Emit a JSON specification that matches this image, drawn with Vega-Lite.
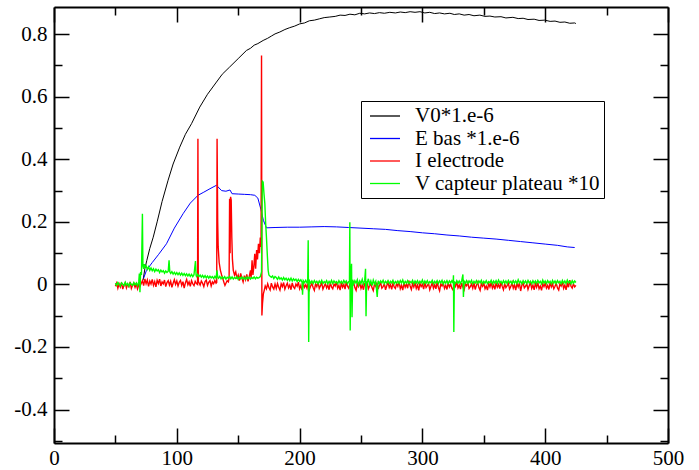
{
  "$schema": "https://vega.github.io/schema/vega-lite/v6.json",
  "width": 614,
  "height": 436,
  "autosize": {"type": "none"},
  "padding": {"left": 54, "top": 7, "right": 31, "bottom": 27},
  "config": {
    "view": {"stroke": null},
    "axis": {"grid": false, "domainColor": "#000000", "tickColor": "#000000", "labelColor": "#000000", "labelFont": "Liberation Serif", "labelFontSize": 21, "domainWidth": 2, "tickWidth": 1.5, "labelFlush": false, "labelOverlap": false},
    "style": {"guide-label": {"font": "Liberation Serif"}}
  },
  "resolve": {"axis": {"x": "independent", "y": "independent"}},
  "layer": [
    {
      "data": {"values": [
        {"x":72.5,"y":0.013},{"x":74,"y":0.05},{"x":75.6,"y":0.077},{"x":78,"y":0.115},{"x":80.8,"y":0.151},{"x":84,"y":0.2},{"x":88,"y":0.265},{"x":92.9,"y":0.333},{"x":97,"y":0.385},{"x":102.4,"y":0.439},{"x":107,"y":0.48},{"x":112,"y":0.514},{"x":118.7,"y":0.567},{"x":125,"y":0.608},{"x":132.3,"y":0.647},{"x":137,"y":0.672},{"x":143,"y":0.695},{"x":150,"y":0.722},{"x":156.7,"y":0.748},{"x":160,"y":0.755},{"x":163,"y":0.765},{"x":166,"y":0.77},{"x":170.3,"y":0.78},{"x":174,"y":0.787},{"x":177,"y":0.794},{"x":180,"y":0.801},{"x":183.9,"y":0.807},{"x":188,"y":0.815},{"x":192,"y":0.821},{"x":196,"y":0.826},{"x":200.1,"y":0.833},{"x":204,"y":0.836},{"x":208,"y":0.843},{"x":212,"y":0.845},{"x":216,"y":0.849},{"x":220,"y":0.853},{"x":224.6,"y":0.855},{"x":229,"y":0.857},{"x":233,"y":0.861},{"x":237,"y":0.86},{"x":241,"y":0.864},{"x":245,"y":0.862},{"x":249,"y":0.867},{"x":253,"y":0.865},{"x":257,"y":0.868},{"x":261,"y":0.866},{"x":265,"y":0.869},{"x":269,"y":0.867},{"x":273.5,"y":0.87},{"x":278,"y":0.868},{"x":282,"y":0.871},{"x":286,"y":0.869},{"x":290,"y":0.872},{"x":294,"y":0.87},{"x":298,"y":0.872},{"x":302,"y":0.868},{"x":306,"y":0.87},{"x":310,"y":0.866},{"x":314,"y":0.868},{"x":318,"y":0.865},{"x":322.4,"y":0.867},{"x":326,"y":0.863},{"x":330,"y":0.865},{"x":334,"y":0.861},{"x":338,"y":0.863},{"x":342,"y":0.859},{"x":346.8,"y":0.861},{"x":351,"y":0.857},{"x":355,"y":0.858},{"x":359,"y":0.855},{"x":364,"y":0.856},{"x":368,"y":0.852},{"x":373.7,"y":0.854},{"x":378,"y":0.85},{"x":382,"y":0.851},{"x":386,"y":0.847},{"x":391,"y":0.848},{"x":395,"y":0.844},{"x":399.6,"y":0.845},{"x":404,"y":0.841},{"x":408,"y":0.842},{"x":412,"y":0.838},{"x":416,"y":0.839},{"x":420,"y":0.835},{"x":424,"y":0.836},{"x":425,"y":0.834}
      ]},
      "mark": {"type": "line", "strokeWidth": 1},
      "encoding": {
        "x": {"field": "x", "type": "quantitative", "scale": {"domain": [0, 500], "nice": false, "zero": false},
          "axis": {"orient": "bottom", "values": [0,100,200,300,400,500], "ticks": false, "tickSize": 0, "labelPadding": 4, "labelFont": "Liberation Serif", "labelFontSize": 21, "labelColor": "#000000", "labelFlush": false, "labelOverlap": false, "domain": true, "domainColor": "#000000", "domainWidth": 2, "grid": false, "title": null}},
        "y": {"field": "y", "type": "quantitative", "scale": {"domain": [-0.507, 0.887], "nice": false, "zero": false},
          "axis": {"orient": "left", "values": [-0.4,-0.2,0,0.2,0.4,0.6,0.8], "ticks": false, "tickSize": 0, "labelPadding": 7, "labelFont": "Liberation Serif", "labelFontSize": 21, "labelColor": "#000000", "labelFlush": false, "labelOverlap": false, "labelExpr": "'' + datum.value", "domain": true, "domainColor": "#000000", "domainWidth": 2, "grid": false, "title": null}},
        "color": {"datum": "V0", "type": "nominal",
          "scale": {"domain": ["V0","E","I","Vc"], "range": ["#000000","#0000ff","#ff0000","#00ff00"]},
          "legend": {"orient": "none", "legendX": 307, "legendY": 94, "title": null, "strokeColor": "#000000", "fillColor": "#ffffff", "padding": 4, "symbolType": "M-1.5,0H1.5", "symbolSize": 400, "symbolStrokeWidth": 1.3, "labelFont": "Liberation Serif", "labelFontSize": 21, "labelColor": "#000000", "labelLimit": 0, "rowPadding": 1.5, "symbolOffset": 9, "labelOffset": 19,
            "labelExpr": "datum.label == 'V0' ? 'V0*1.e-6' : datum.label == 'E' ? 'E bas *1.e-6' : datum.label == 'I' ? 'I electrode' : 'V capteur plateau *10'"}}
      }
    },
    {
      "data": {"values": [
        {"x":73,"y":0.02},{"x":75.3,"y":0.045},{"x":80,"y":0.07},{"x":85,"y":0.095},{"x":91.6,"y":0.13},{"x":98,"y":0.18},{"x":105.1,"y":0.226},{"x":111,"y":0.26},{"x":117.3,"y":0.285},{"x":122,"y":0.295},{"x":127,"y":0.306},{"x":132.3,"y":0.317},{"x":133.5,"y":0.312},{"x":136.5,"y":0.3},{"x":140,"y":0.298},{"x":143.3,"y":0.302},{"x":145,"y":0.29},{"x":150,"y":0.289},{"x":155,"y":0.288},{"x":160,"y":0.287},{"x":163.5,"y":0.285},{"x":166,"y":0.276},{"x":168.5,"y":0.24},{"x":170.5,"y":0.205},{"x":173,"y":0.181},{"x":180,"y":0.182},{"x":190,"y":0.183},{"x":200,"y":0.183},{"x":210,"y":0.184},{"x":220,"y":0.185},{"x":230,"y":0.184},{"x":240,"y":0.182},{"x":250,"y":0.18},{"x":260,"y":0.178},{"x":270,"y":0.176},{"x":280,"y":0.172},{"x":290,"y":0.169},{"x":300,"y":0.165},{"x":310,"y":0.162},{"x":320,"y":0.158},{"x":330,"y":0.155},{"x":340,"y":0.151},{"x":350,"y":0.148},{"x":360,"y":0.145},{"x":370,"y":0.141},{"x":380,"y":0.137},{"x":390,"y":0.133},{"x":400,"y":0.129},{"x":410,"y":0.125},{"x":418,"y":0.12},{"x":424,"y":0.118}
      ]},
      "mark": {"type": "line", "strokeWidth": 1},
      "encoding": {
        "x": {"field": "x", "type": "quantitative", "axis": {"orient": "bottom", "values": [0,100,200,300,400,500], "labels": false, "domain": false, "grid": false, "tickSize": -15, "tickColor": "#000000", "tickWidth": 1.5, "title": null}},
        "y": {"field": "y", "type": "quantitative", "axis": {"orient": "left", "values": [-0.4,-0.2,0,0.2,0.4,0.6,0.8], "labels": false, "domain": false, "grid": false, "tickSize": -15, "tickColor": "#000000", "tickWidth": 1.5, "title": null}},
        "color": {"datum": "E", "type": "nominal"}
      }
    },
    {
      "data": {"values": [
        {"x":50,"y":-0.006},{"x":51,"y":0.004},{"x":52,"y":-0.012},{"x":53,"y":0.002},{"x":54,"y":-0.008},{"x":55,"y":0.006},{"x":56,"y":-0.015},{"x":57,"y":-0.002},{"x":58,"y":0.005},{"x":59,"y":-0.011},{"x":60,"y":0.001},{"x":61,"y":-0.007},{"x":62,"y":0.008},{"x":63,"y":-0.013},{"x":64,"y":-0.003},{"x":65,"y":0.004},{"x":66,"y":-0.009},{"x":67,"y":0.002},{"x":68,"y":-0.014},{"x":69,"y":-0.001},{"x":70,"y":-0.006},{"x":71,"y":0.003},
        {"x":72,"y":0.012},{"x":73,"y":-0.004},{"x":74,"y":0.018},{"x":75,"y":0.002},{"x":76,"y":0.014},{"x":77,"y":-0.006},{"x":78,"y":0.011},{"x":79,"y":0.001},{"x":80,"y":0.016},{"x":81,"y":-0.003},{"x":82,"y":0.009},{"x":83,"y":-0.008},{"x":84,"y":0.013},{"x":85,"y":0.003},{"x":86,"y":0.017},{"x":87,"y":-0.005},{"x":88,"y":0.008},{"x":89,"y":0.002},{"x":90,"y":0.014},{"x":91,"y":-0.007},{"x":92,"y":0.006},{"x":93,"y":0.012},{"x":94,"y":-0.002},{"x":95,"y":0.01},{"x":96,"y":-0.009},{"x":97,"y":0.004},{"x":98,"y":0.015},{"x":99,"y":0.0},{"x":100,"y":0.011},{"x":101,"y":-0.005},{"x":102,"y":0.007},{"x":103,"y":0.013},{"x":104,"y":-0.003},{"x":105,"y":0.009},{"x":106,"y":-0.012},{"x":107,"y":0.005},{"x":108,"y":0.016},{"x":109,"y":-0.001},{"x":110,"y":0.008},{"x":111,"y":-0.006},{"x":112,"y":0.012},{"x":113,"y":0.002},{"x":114,"y":-0.004},{"x":115,"y":0.01},{"x":116,"y":0.003},
        {"x":116.9,"y":0.0},{"x":117.2,"y":0.466},{"x":117.5,"y":0.01},{"x":118,"y":0.006},{"x":119,"y":-0.002},{"x":120,"y":0.011},{"x":121,"y":0.004},{"x":122,"y":-0.007},{"x":123,"y":0.009},{"x":124,"y":0.014},{"x":125,"y":-0.003},{"x":126,"y":0.007},{"x":127,"y":0.012},{"x":128,"y":-0.005},{"x":129,"y":0.008},{"x":130,"y":0.002},{"x":131,"y":0.013},{"x":132,"y":0.004},{"x":132.5,"y":0.006},
        {"x":132.8,"y":0.466},{"x":133.3,"y":0.2},{"x":133.7,"y":0.12},{"x":134.5,"y":0.07},{"x":135.5,"y":0.045},{"x":136.5,"y":0.03},{"x":137.5,"y":0.018},{"x":138.5,"y":0.005},{"x":139.2,"y":-0.003},{"x":140,"y":0.004},{"x":141,"y":0.012},{"x":142,"y":0.008},{"x":142.6,"y":0.02},{"x":143,"y":0.274},{"x":143.4,"y":0.1},{"x":143.8,"y":0.28},{"x":144.3,"y":0.27},{"x":144.8,"y":0.15},{"x":145.3,"y":0.08},{"x":146,"y":0.045},{"x":147,"y":0.03},{"x":148,"y":0.04},{"x":149,"y":0.018},{"x":150,"y":0.03},{"x":151,"y":0.012},{"x":152,"y":0.035},{"x":153,"y":0.02},{"x":154,"y":0.008},{"x":155,"y":0.028},{"x":156,"y":0.015},{"x":157,"y":0.032},{"x":158,"y":0.01},{"x":159,"y":0.025},{"x":160,"y":0.045},{"x":160.5,"y":0.02},{"x":161.3,"y":0.077},{"x":162,"y":0.03},{"x":162.8,"y":0.06},{"x":163.5,"y":0.098},{"x":164.2,"y":0.05},{"x":165,"y":0.11},{"x":165.7,"y":0.08},{"x":166.5,"y":0.13},{"x":167.3,"y":0.1},{"x":168,"y":0.15},{"x":168.6,"y":0.12},{"x":169,"y":0.732},{"x":169.3,"y":-0.099},{"x":169.8,"y":-0.06},{"x":170.5,"y":-0.03},{"x":171.2,"y":-0.019},{"x":172,"y":-0.005},{"x":173,"y":-0.014},{"x":174,"y":0.002},{"x":175,"y":-0.01},{"x":176,"y":-0.018},{"x":177,"y":0.004},{"x":178,"y":-0.008},{"x":179,"y":-0.015},{"x":180,"y":0.001},
        {"x":181,"y":-0.013},{"x":182,"y":0.003},{"x":183,"y":-0.009},{"x":184,"y":-0.018},{"x":185,"y":0.002},{"x":186,"y":-0.007},{"x":187,"y":0.006},{"x":188,"y":-0.015},{"x":189,"y":-0.004},{"x":190,"y":0.004},
        {"x":191,"y":-0.011},{"x":192,"y":-0.002},{"x":193,"y":-0.017},{"x":194,"y":0.005},{"x":195,"y":-0.008},{"x":196,"y":-0.013},{"x":197,"y":0.001},{"x":198,"y":-0.006},{"x":199,"y":0.007},{"x":200,"y":-0.014},
        {"x":201,"y":-0.003},{"x":202,"y":-0.018},{"x":203,"y":0.004},{"x":204,"y":-0.009},{"x":205,"y":-0.001},{"x":206,"y":-0.012},{"x":207,"y":0.006},{"x":208,"y":-0.016},{"x":209,"y":-0.005},{"x":210,"y":0.003},
        {"x":211,"y":-0.01},{"x":212,"y":-0.019},{"x":213,"y":0.002},{"x":214,"y":-0.007},{"x":215,"y":0.008},{"x":216,"y":-0.013},{"x":217,"y":-0.004},{"x":218,"y":0.005},{"x":219,"y":-0.015},{"x":220,"y":-0.006},
        {"x":221,"y":0.003},{"x":222,"y":-0.011},{"x":223,"y":-0.002},{"x":224,"y":-0.017},{"x":225,"y":0.006},{"x":226,"y":-0.008},{"x":227,"y":-0.014},{"x":228,"y":0.001},{"x":229,"y":-0.005},{"x":230,"y":0.009},
        {"x":231,"y":-0.012},{"x":232,"y":-0.003},{"x":233,"y":-0.018},{"x":234,"y":0.004},{"x":235,"y":-0.009},{"x":236,"y":0.0},{"x":237,"y":-0.015},{"x":238,"y":0.007},{"x":239,"y":-0.006},{"x":240,"y":-0.012},
        {"x":241,"y":0.003},{"x":242,"y":-0.016},{"x":243,"y":-0.004},{"x":244,"y":0.006},{"x":245,"y":-0.01},{"x":246,"y":-0.019},{"x":247,"y":0.002},{"x":248,"y":-0.007},{"x":249,"y":0.005},{"x":250,"y":-0.013},
        {"x":251,"y":-0.002},{"x":252,"y":-0.017},{"x":253,"y":0.004},{"x":254,"y":-0.008},{"x":255,"y":0.008},{"x":256,"y":-0.014},{"x":257,"y":-0.005},{"x":258,"y":0.003},{"x":259,"y":-0.011},{"x":260,"y":-0.02},
        {"x":261,"y":0.001},{"x":262,"y":-0.006},{"x":263,"y":0.006},{"x":264,"y":-0.015},{"x":265,"y":-0.003},{"x":266,"y":0.005},{"x":267,"y":-0.012},{"x":268,"y":-0.007},{"x":269,"y":0.002},{"x":270,"y":-0.017},
        {"x":271,"y":-0.004},{"x":272,"y":0.007},{"x":273,"y":-0.01},{"x":274,"y":-0.001},{"x":275,"y":-0.016},{"x":276,"y":0.004},{"x":277,"y":-0.008},{"x":278,"y":-0.013},{"x":279,"y":0.003},{"x":280,"y":-0.006},
        {"x":281,"y":0.009},{"x":282,"y":-0.014},{"x":283,"y":-0.003},{"x":284,"y":-0.018},{"x":285,"y":0.005},{"x":286,"y":-0.009},{"x":287,"y":0.001},{"x":288,"y":-0.012},{"x":289,"y":0.012},{"x":290,"y":-0.005},
        {"x":291,"y":-0.016},{"x":292,"y":0.002},{"x":293,"y":-0.008},{"x":294,"y":0.006},{"x":295,"y":-0.013},{"x":296,"y":-0.002},{"x":297,"y":-0.019},{"x":298,"y":0.004},{"x":299,"y":-0.007},{"x":300,"y":0.0},
        {"x":301,"y":-0.015},{"x":302,"y":0.006},{"x":303,"y":-0.01},{"x":304,"y":-0.004},{"x":305,"y":0.003},{"x":306,"y":-0.017},{"x":307,"y":-0.006},{"x":308,"y":0.005},{"x":309,"y":-0.012},{"x":310,"y":-0.001},
        {"x":311,"y":-0.014},{"x":312,"y":0.007},{"x":313,"y":-0.009},{"x":314,"y":-0.02},{"x":315,"y":0.002},{"x":316,"y":-0.005},{"x":317,"y":0.004},{"x":318,"y":-0.013},{"x":319,"y":-0.003},{"x":320,"y":-0.016},
        {"x":321,"y":0.005},{"x":322,"y":-0.008},{"x":323,"y":0.001},{"x":324,"y":-0.012},{"x":325,"y":-0.018},{"x":326,"y":0.003},{"x":327,"y":-0.006},{"x":328,"y":0.008},{"x":329,"y":-0.011},{"x":330,"y":-0.002},
        {"x":331,"y":-0.015},{"x":332,"y":0.004},{"x":333,"y":-0.009},{"x":334,"y":-0.017},{"x":335,"y":0.002},{"x":336,"y":-0.004},{"x":337,"y":0.006},{"x":338,"y":-0.013},{"x":339,"y":-0.007},{"x":340,"y":0.001},
        {"x":341,"y":-0.012},{"x":342,"y":0.005},{"x":343,"y":-0.016},{"x":344,"y":-0.003},{"x":345,"y":0.007},{"x":346,"y":-0.01},{"x":347,"y":-0.019},{"x":348,"y":0.002},{"x":349,"y":-0.006},{"x":350,"y":0.004},
        {"x":351,"y":-0.014},{"x":352,"y":-0.005},{"x":353,"y":-0.018},{"x":354,"y":0.003},{"x":355,"y":-0.008},{"x":356,"y":0.006},{"x":357,"y":-0.012},{"x":358,"y":-0.002},{"x":359,"y":-0.016},{"x":360,"y":0.005},
        {"x":361,"y":-0.009},{"x":362,"y":0.0},{"x":363,"y":-0.013},{"x":364,"y":0.007},{"x":365,"y":-0.006},{"x":366,"y":-0.017},{"x":367,"y":0.002},{"x":368,"y":-0.01},{"x":369,"y":-0.004},{"x":370,"y":0.004},
        {"x":371,"y":-0.015},{"x":372,"y":-0.007},{"x":373,"y":0.006},{"x":374,"y":-0.012},{"x":375,"y":-0.001},{"x":376,"y":-0.018},{"x":377,"y":0.003},{"x":378,"y":-0.008},{"x":379,"y":0.005},{"x":380,"y":-0.021},
        {"x":381,"y":-0.003},{"x":382,"y":0.004},{"x":383,"y":-0.011},{"x":384,"y":-0.006},{"x":385,"y":0.002},{"x":386,"y":-0.016},{"x":387,"y":-0.004},{"x":388,"y":0.006},{"x":389,"y":-0.013},{"x":390,"y":-0.002},
        {"x":391,"y":-0.017},{"x":392,"y":0.003},{"x":393,"y":-0.009},{"x":394,"y":0.005},{"x":395,"y":-0.014},{"x":396,"y":-0.005},{"x":397,"y":-0.019},{"x":398,"y":0.002},{"x":399,"y":-0.007},{"x":400,"y":0.004},
        {"x":401,"y":-0.012},{"x":402,"y":-0.003},{"x":403,"y":-0.016},{"x":404,"y":0.006},{"x":405,"y":-0.008},{"x":406,"y":0.001},{"x":407,"y":-0.014},{"x":408,"y":-0.006},{"x":409,"y":0.004},{"x":410,"y":-0.011},
        {"x":411,"y":-0.018},{"x":412,"y":0.002},{"x":413,"y":-0.005},{"x":414,"y":0.007},{"x":415,"y":-0.013},{"x":416,"y":-0.002},{"x":417,"y":-0.017},{"x":418,"y":0.003},{"x":419,"y":-0.009},{"x":420,"y":0.014},
        {"x":421,"y":-0.006},{"x":422,"y":-0.012},{"x":423,"y":0.002},{"x":424,"y":-0.008},{"x":425,"y":-0.003}
      ]},
      "mark": {"type": "line", "strokeWidth": 1.4},
      "encoding": {
        "x": {"field": "x", "type": "quantitative", "axis": {"orient": "bottom", "values": [50,150,250,350,450], "labels": false, "domain": false, "grid": false, "tickSize": -8, "tickColor": "#000000", "tickWidth": 1.5, "title": null}},
        "y": {"field": "y", "type": "quantitative", "axis": {"orient": "left", "values": [-0.5,-0.3,-0.1,0.1,0.3,0.5,0.7], "labels": false, "domain": false, "grid": false, "tickSize": -8, "tickColor": "#000000", "tickWidth": 1.5, "title": null}},
        "color": {"datum": "I", "type": "nominal"}
      }
    },
    {
      "data": {"values": [
        {"x":50,"y":0.004},{"x":51,"y":-0.003},{"x":52,"y":0.006},{"x":53,"y":0.0},{"x":54,"y":-0.005},{"x":55,"y":0.005},{"x":56,"y":0.001},{"x":57,"y":-0.004},{"x":58,"y":0.007},{"x":59,"y":-0.002},{"x":60,"y":0.003},{"x":61,"y":-0.006},{"x":62,"y":0.005},{"x":63,"y":0.0},{"x":64,"y":-0.003},{"x":65,"y":0.006},{"x":66,"y":-0.001},{"x":67,"y":0.004},{"x":68,"y":-0.004},{"x":69,"y":0.008},{"x":69.5,"y":0.035},{"x":70,"y":-0.025},{"x":70.5,"y":0.04},{"x":71.2,"y":0.03},{"x":72,"y":0.226},{"x":72.4,"y":0.06},{"x":73,"y":0.05},{"x":73.5,"y":0.065},{"x":74,"y":0.055},{"x":75,"y":0.06},{"x":76,"y":0.048},{"x":77,"y":0.056},{"x":78,"y":0.045},{"x":79,"y":0.053},{"x":80,"y":0.044},{"x":81,"y":0.05},{"x":82,"y":0.041},{"x":83,"y":0.049},{"x":84,"y":0.043},{"x":85,"y":0.047},{"x":86,"y":0.038},{"x":87,"y":0.046},{"x":88,"y":0.04},{"x":89,"y":0.044},{"x":90,"y":0.036},{"x":91,"y":0.043},{"x":92,"y":0.038},{"x":93,"y":0.042},{"x":93.7,"y":0.077},{"x":94.3,"y":0.04},{"x":95,"y":0.035},{"x":96,"y":0.041},{"x":97,"y":0.033},{"x":98,"y":0.039},{"x":99,"y":0.032},{"x":100,"y":0.038},{"x":101,"y":0.031},{"x":102,"y":0.037},{"x":103,"y":0.03},{"x":104,"y":0.036},{"x":105,"y":0.029},{"x":106,"y":0.035},{"x":107,"y":0.028},{"x":108,"y":0.034},{"x":109,"y":0.027},{"x":110,"y":0.033},{"x":111,"y":0.026},{"x":112,"y":0.032},{"x":113,"y":0.025},{"x":114,"y":0.031},{"x":115.2,"y":0.075},{"x":115.7,"y":0.03},{"x":116,"y":0.026},{"x":117,"y":0.032},{"x":118,"y":0.025},{"x":119,"y":0.03},{"x":120,"y":0.023},{"x":121,"y":0.029},{"x":122,"y":0.022},{"x":123,"y":0.028},{"x":124,"y":0.021},{"x":125,"y":0.027},{"x":126,"y":0.02},{"x":127,"y":0.026},{"x":128,"y":0.021},{"x":129,"y":0.025},{"x":130,"y":0.019},{"x":131,"y":0.026},{"x":132,"y":0.02},{"x":132.7,"y":0.045},{"x":133.3,"y":0.024},{"x":134,"y":0.02},{"x":135,"y":0.026},{"x":136,"y":0.018},{"x":137,"y":0.024},{"x":138,"y":0.019},{"x":139,"y":0.025},{"x":140,"y":0.017},{"x":141,"y":0.023},{"x":142,"y":0.02},{"x":143,"y":0.026},{"x":144,"y":0.018},{"x":145,"y":0.024},{"x":146,"y":0.017},{"x":147,"y":0.022},{"x":148,"y":0.019},{"x":149,"y":0.025},{"x":150,"y":0.016},{"x":151,"y":0.023},{"x":152,"y":0.018},{"x":153,"y":0.024},{"x":154,"y":0.017},{"x":155,"y":0.022},{"x":156,"y":0.016},{"x":157,"y":0.024},{"x":158,"y":0.018},{"x":159,"y":0.023},{"x":160,"y":0.017},{"x":161,"y":0.022},{"x":162,"y":0.019},{"x":163,"y":0.024},{"x":164,"y":0.018},{"x":165,"y":0.023},{"x":166,"y":0.02},{"x":167,"y":0.022},{"x":168,"y":0.025},{"x":169,"y":0.04},{"x":169.6,"y":0.33},{"x":170.3,"y":0.327},{"x":171,"y":0.29},{"x":171.7,"y":0.258},{"x":172.3,"y":0.2},{"x":173,"y":0.151},{"x":173.7,"y":0.095},{"x":174.4,"y":0.045},{"x":175,"y":0.03},{"x":176,"y":0.026},{"x":177,"y":0.023},{"x":178,"y":0.027},{"x":179,"y":0.019},{"x":180,"y":0.025},
        {"x":181,"y":0.022},{"x":182,"y":0.016},{"x":183,"y":0.024},{"x":184,"y":0.017},{"x":185,"y":0.021},{"x":186,"y":0.014},{"x":187,"y":0.022},{"x":188,"y":0.015},{"x":189,"y":0.02},{"x":190,"y":0.013},
        {"x":191,"y":0.019},{"x":192,"y":0.012},{"x":193,"y":0.02},{"x":194,"y":0.011},{"x":195,"y":0.018},{"x":196,"y":0.013},{"x":197,"y":0.017},{"x":198,"y":0.009},{"x":199,"y":0.016},{"x":200,"y":0.01},
        {"x":201,"y":0.015},{"x":202,"y":0.007},{"x":202.4,"y":-0.033},{"x":203,"y":0.012},{"x":204,"y":0.006},{"x":205,"y":0.013},{"x":206,"y":0.005},{"x":206.6,"y":0.011},{"x":207,"y":0.141},{"x":207.4,"y":-0.184},{"x":207.8,"y":0.009},{"x":208,"y":0.012},{"x":209,"y":0.004},{"x":210,"y":0.011},
        {"x":211,"y":0.003},{"x":212,"y":0.012},{"x":213,"y":0.005},{"x":214,"y":0.01},{"x":215,"y":0.002},{"x":216,"y":0.011},{"x":217,"y":0.004},{"x":218,"y":0.013},{"x":219,"y":0.003},{"x":220,"y":0.009},
        {"x":221,"y":0.005},{"x":222,"y":0.012},{"x":223,"y":0.002},{"x":224,"y":0.01},{"x":225,"y":0.004},{"x":226,"y":0.013},{"x":227,"y":0.003},{"x":228,"y":0.011},{"x":229,"y":0.005},{"x":230,"y":0.009},
        {"x":231,"y":0.002},{"x":232,"y":0.012},{"x":233,"y":0.004},{"x":234,"y":0.01},{"x":235,"y":0.003},{"x":236,"y":0.013},{"x":237,"y":0.005},{"x":238,"y":0.011},{"x":239,"y":0.002},{"x":240,"y":0.009},{"x":240.6,"y":0.01},{"x":240.9,"y":0.199},{"x":241.2,"y":-0.147},{"x":241.6,"y":0.02},{"x":242.3,"y":0.066},{"x":242.7,"y":-0.105},{"x":243.2,"y":0.015},
        {"x":244,"y":0.002},{"x":245,"y":0.012},{"x":246,"y":0.004},{"x":247,"y":0.015},{"x":248,"y":-0.002},{"x":249,"y":0.011},{"x":250,"y":0.003},{"x":251,"y":0.016},{"x":252,"y":0.001},{"x":253,"y":0.012},{"x":253.7,"y":0.05},{"x":254.1,"y":-0.102},{"x":254.6,"y":0.01},{"x":255,"y":0.004},{"x":256,"y":0.018},{"x":257,"y":0.0},{"x":258,"y":0.011},{"x":259,"y":-0.004},{"x":260,"y":0.014},
        {"x":261,"y":0.002},{"x":262,"y":0.01},{"x":263.2,"y":-0.04},{"x":264,"y":0.012},{"x":265,"y":0.003},{"x":266,"y":0.011},{"x":267,"y":0.005},{"x":268,"y":0.013},{"x":269,"y":0.002},{"x":270,"y":0.01},
        {"x":271,"y":0.004},{"x":272,"y":0.012},{"x":273,"y":0.003},{"x":274,"y":0.01},{"x":275,"y":0.005},{"x":276,"y":0.013},{"x":277,"y":0.002},{"x":278,"y":0.009},{"x":279,"y":0.004},{"x":280,"y":0.011},
        {"x":281,"y":0.003},{"x":282,"y":0.012},{"x":283,"y":0.005},{"x":284,"y":0.014},{"x":285,"y":0.002},{"x":286,"y":0.01},{"x":287,"y":0.004},{"x":288,"y":0.012},{"x":289,"y":0.003},{"x":290,"y":0.009},
        {"x":291,"y":0.005},{"x":292,"y":0.013},{"x":293,"y":0.002},{"x":294,"y":0.011},{"x":295,"y":0.004},{"x":296,"y":0.012},{"x":297,"y":0.003},{"x":298,"y":0.01},{"x":299,"y":0.005},{"x":300,"y":0.014},
        {"x":301,"y":0.002},{"x":302,"y":0.011},{"x":303,"y":0.004},{"x":304,"y":0.012},{"x":305,"y":0.003},{"x":306,"y":0.009},{"x":307,"y":0.005},{"x":308,"y":0.013},{"x":309,"y":0.002},{"x":310,"y":0.01},
        {"x":311,"y":0.004},{"x":312,"y":0.012},{"x":313,"y":0.003},{"x":314,"y":0.011},{"x":315,"y":0.005},{"x":316,"y":0.013},{"x":317,"y":0.001},{"x":318,"y":0.01},{"x":319,"y":0.004},{"x":320,"y":0.012},
        {"x":321,"y":0.003},{"x":322,"y":0.011},{"x":323,"y":0.005},{"x":324,"y":0.012},{"x":325,"y":0.004},{"x":325.3,"y":0.029},{"x":325.6,"y":-0.152},{"x":326,"y":0.008},{"x":327,"y":0.003},{"x":328,"y":0.012},{"x":329,"y":0.004},{"x":330,"y":0.011},
        {"x":331,"y":0.003},{"x":332,"y":0.012},{"x":333,"y":0.032},{"x":333.4,"y":-0.04},{"x":334,"y":0.01},{"x":335,"y":0.004},{"x":336,"y":0.012},{"x":337,"y":0.003},{"x":338,"y":0.011},{"x":339,"y":0.005},{"x":340,"y":0.013},
        {"x":341,"y":0.002},{"x":342,"y":0.01},{"x":343,"y":0.004},{"x":344,"y":0.012},{"x":345,"y":0.003},{"x":346,"y":0.011},{"x":347,"y":0.005},{"x":348,"y":0.013},{"x":349,"y":0.002},{"x":350,"y":0.01},
        {"x":351,"y":0.004},{"x":352,"y":0.012},{"x":353,"y":0.003},{"x":354,"y":0.009},{"x":355,"y":0.005},{"x":356,"y":0.013},{"x":357,"y":0.002},{"x":358,"y":0.011},{"x":359,"y":0.004},{"x":360,"y":0.012},
        {"x":361,"y":0.003},{"x":362,"y":0.014},{"x":363,"y":0.005},{"x":364,"y":0.01},{"x":365,"y":0.002},{"x":366,"y":0.012},{"x":367,"y":0.004},{"x":368,"y":0.011},{"x":369,"y":0.003},{"x":370,"y":0.013},
        {"x":371,"y":0.005},{"x":372,"y":0.01},{"x":373,"y":0.002},{"x":374,"y":0.012},{"x":375,"y":0.004},{"x":376,"y":0.011},{"x":377,"y":0.003},{"x":378,"y":0.015},{"x":379,"y":0.005},{"x":380,"y":0.01},
        {"x":381,"y":0.002},{"x":382,"y":0.012},{"x":383,"y":0.004},{"x":384,"y":0.011},{"x":385,"y":0.003},{"x":386,"y":0.013},{"x":387,"y":0.005},{"x":388,"y":0.01},{"x":389,"y":0.002},{"x":390,"y":0.012},
        {"x":391,"y":0.004},{"x":392,"y":0.011},{"x":393,"y":0.003},{"x":394,"y":0.013},{"x":395,"y":0.005},{"x":396,"y":0.01},{"x":397,"y":0.002},{"x":398,"y":0.014},{"x":399,"y":0.004},{"x":400,"y":0.011},
        {"x":401,"y":0.003},{"x":402,"y":0.012},{"x":403,"y":0.005},{"x":404,"y":0.01},{"x":405,"y":0.002},{"x":406,"y":0.013},{"x":407,"y":0.004},{"x":408,"y":0.011},{"x":409,"y":0.003},{"x":410,"y":0.012},
        {"x":411,"y":0.005},{"x":412,"y":0.01},{"x":413,"y":0.002},{"x":414,"y":0.013},{"x":415,"y":0.004},{"x":416,"y":0.011},{"x":417,"y":0.003},{"x":418,"y":0.014},{"x":419,"y":0.005},{"x":420,"y":0.01},
        {"x":421,"y":0.002},{"x":422,"y":0.012},{"x":423,"y":0.004},{"x":424,"y":0.011},{"x":425,"y":0.006}
      ]},
      "mark": {"type": "line", "strokeWidth": 1.4},
      "encoding": {
        "x": {"field": "x", "type": "quantitative", "axis": {"orient": "top", "values": [0,100,200,300,400,500], "labels": false, "domain": true, "domainColor": "#000000", "domainWidth": 2, "grid": false, "tickSize": -15, "tickColor": "#000000", "tickWidth": 1.5, "title": null}},
        "y": {"field": "y", "type": "quantitative", "axis": {"orient": "right", "values": [-0.4,-0.2,0,0.2,0.4,0.6,0.8], "labels": false, "domain": true, "domainColor": "#000000", "domainWidth": 2, "grid": false, "tickSize": -15, "tickColor": "#000000", "tickWidth": 1.5, "title": null}},
        "color": {"datum": "Vc", "type": "nominal"}
      }
    },
    {
      "data": {"values": [{"x": 0, "y": 0}]},
      "mark": {"type": "point", "opacity": 0},
      "encoding": {
        "x": {"field": "x", "type": "quantitative", "axis": {"orient": "top", "values": [50,150,250,350,450], "labels": false, "domain": false, "grid": false, "tickSize": -8, "tickColor": "#000000", "tickWidth": 1.5, "title": null}},
        "y": {"field": "y", "type": "quantitative", "axis": {"orient": "right", "values": [-0.5,-0.3,-0.1,0.1,0.3,0.5,0.7], "labels": false, "domain": false, "grid": false, "tickSize": -8, "tickColor": "#000000", "tickWidth": 1.5, "title": null}}
      }
    }
  ]
}
